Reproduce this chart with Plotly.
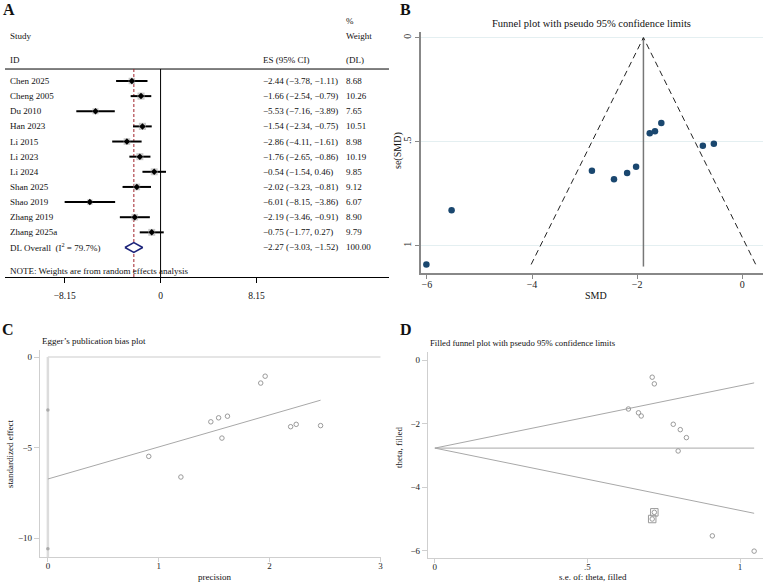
import plotly.graph_objects as go

# ---------------- data ----------------
studies = ["Chen 2025", "Cheng 2005", "Du 2010", "Han 2023", "Li 2015", "Li 2023",
           "Li 2024", "Shan 2025", "Shao 2019", "Zhang 2019", "Zhang 2025a"]
es = [-2.44, -1.66, -5.53, -1.54, -2.86, -1.76, -0.54, -2.02, -6.01, -2.19, -0.75]
ci_lo = [-3.78, -2.54, -7.16, -2.34, -4.11, -2.65, -1.54, -3.23, -8.15, -3.46, -1.77]
ci_hi = [-1.11, -0.79, -3.89, -0.75, -1.61, -0.86, 0.46, -0.81, -3.86, -0.91, 0.27]
weights = [8.68, 10.26, 7.65, 10.51, 8.98, 10.19, 9.85, 9.12, 6.07, 8.90, 9.79]
overall_es, overall_lo, overall_hi = -2.27, -3.03, -1.52
overall_weight = 100.00
i_squared = 79.7
forest_ticks = [-8.15, 0, 8.15]

# funnel plot (B)
se_smd = [0.68, 0.45, 0.83, 0.41, 0.64, 0.46, 0.51, 0.62, 1.09, 0.65, 0.52]
funnel_center = -1.88
funnel_se_max = 1.09
funnel_xticks = [-6, -4, -2, 0]
funnel_yticks = [0, 0.5, 1]

# Egger plot (C)
egger_precision = [1.47, 2.24, 1.20, 2.46, 1.57, 2.19, 1.96, 1.62, 0.91, 1.54, 1.92]
egger_std_effect = [-3.58, -3.72, -6.63, -3.79, -4.48, -3.85, -1.06, -3.27, -5.49, -3.36, -1.44]
egger_intercept = -6.74
egger_slope = 1.77
egger_intercept_ci = [-2.93, -10.6]
egger_xticks = [0, 1, 2, 3]
egger_yticks = [0, -5, -10]

# filled funnel plot (D)
filled_se_obs = [0.824, 0.667, 0.909, 0.634, 0.797, 0.676, 0.712, 0.781, 1.046, 0.804, 0.719]
filled_theta_obs = [-2.44, -1.66, -5.53, -1.54, -2.86, -1.76, -0.54, -2.02, -6.01, -2.19, -0.75]
filled_se_imp = [0.712, 0.719]
filled_theta_imp = [-5.00, -4.79]
filled_pooled = -2.77
filled_se_max = 1.046
filled_xticks = [0, 0.5, 1]
filled_yticks = [0, -2, -4, -6]

# ---------------- layout helpers ----------------
W, H = 767, 583
FONT = "Liberation Serif, Times New Roman, serif"


def px(x):
    return x / W


def py(y):
    return 1 - y / H


def fmt(v):
    s = f"{v:.2f}"
    return s.replace("-", "\u2212")


fig = go.Figure()

# ---------------- Panel A: forest plot ----------------
rows = list(range(len(studies)))
row_overall = len(studies)
A_TOP, A_BOT = -0.79, 12.95
A_XL, A_XR = -13.22, 19.41

fig.add_trace(go.Scatter(x=[A_XL, A_XR], y=[A_TOP, A_TOP], mode="lines",
                         line=dict(color="black", width=1), xaxis="x", yaxis="y", hoverinfo="skip"))
fig.add_trace(go.Scatter(x=[0, 0], y=[A_TOP, A_BOT], mode="lines",
                         line=dict(color="black", width=1), xaxis="x", yaxis="y", hoverinfo="skip"))
fig.add_trace(go.Scatter(x=[overall_es, overall_es], y=[A_TOP, A_BOT], mode="lines",
                         line=dict(color="#a0202a", width=1, dash="3px,2px"), xaxis="x", yaxis="y",
                         hoverinfo="skip"))
fig.add_trace(go.Scatter(
    x=es, y=rows, mode="markers",
    marker=dict(symbol="square", color="#b4b4b4", size=[2.2 * w ** 0.5 for w in weights], line=dict(width=0)),
    error_x=dict(type="data", symmetric=False,
                 array=[h - e for h, e in zip(ci_hi, es)],
                 arrayminus=[e - l for e, l in zip(es, ci_lo)],
                 thickness=2, width=0, color="black"),
    xaxis="x", yaxis="y", hoverinfo="skip"))
fig.add_trace(go.Scatter(x=es, y=rows, mode="markers",
                         marker=dict(symbol="diamond", color="black", size=5),
                         xaxis="x", yaxis="y", hoverinfo="skip"))
dh = 0.33
fig.add_trace(go.Scatter(
    x=[overall_lo, overall_es, overall_hi, overall_es, overall_lo],
    y=[row_overall, row_overall - dh, row_overall, row_overall + dh, row_overall],
    mode="lines", fill="toself", fillcolor="white",
    line=dict(color="#1c237a", width=1.5), xaxis="x", yaxis="y", hoverinfo="skip"))

annotations = []
TXT = 9
COL_NAME, COL_ES, COL_W = -13.0, 8.56, 15.6


def atext(x, y, text, size=TXT, xanchor="left", xref="x", yref="y", color="#111", **kw):
    annotations.append(dict(x=x, y=y, xref=xref, yref=yref, text=text, showarrow=False,
                            xanchor=xanchor, yanchor="middle",
                            font=dict(family=FONT, size=size, color=color), **kw))


atext(COL_NAME, -2.98, "Study")
atext(COL_NAME, -1.39, "ID")
atext(COL_ES, -1.39, "ES (95% CI)")
atext(COL_W, -3.97, "%")
atext(COL_W, -2.98, "Weight")
atext(COL_W, -1.39, "(DL)")
for r, name, e, l, h, w in zip(rows, studies, es, ci_lo, ci_hi, weights):
    atext(COL_NAME, r, name)
    atext(COL_ES, r, f"{fmt(e)} ({fmt(l)}, {fmt(h)})")
    atext(COL_W, r, f"{w:.2f}")
atext(COL_NAME, row_overall, f"DL Overall  (I<sup>2</sup> = {i_squared}%)")
atext(COL_ES, row_overall, f"{fmt(overall_es)} ({fmt(overall_lo)}, {fmt(overall_hi)})")
atext(COL_W, row_overall, f"{overall_weight:.2f}")
atext(COL_NAME, 12.55, "NOTE: Weights are from random effects analysis")

# ---------------- Panel B: funnel plot ----------------
fig.add_trace(go.Scatter(x=[funnel_center, funnel_center], y=[0, 1.10], mode="lines",
                         line=dict(color="#777", width=1.5), xaxis="x2", yaxis="y2", hoverinfo="skip"))
fig.add_trace(go.Scatter(
    x=[funnel_center - 1.96 * funnel_se_max, funnel_center, funnel_center + 1.96 * funnel_se_max],
    y=[funnel_se_max, 0, funnel_se_max], mode="lines",
    line=dict(color="#222", width=1, dash="6px,4px"), xaxis="x2", yaxis="y2", hoverinfo="skip"))
fig.add_trace(go.Scatter(x=es, y=se_smd, mode="markers",
                         marker=dict(color="#1a476f", size=6.5), xaxis="x2", yaxis="y2", hoverinfo="skip"))

# ---------------- Panel C: Egger plot ----------------
fig.add_trace(go.Scatter(x=[0, 3.0], y=[0, 0], mode="lines",
                         line=dict(color="#dcdcdc", width=1.5), xaxis="x3", yaxis="y3", hoverinfo="skip"))
fig.add_trace(go.Scatter(x=[0, 0], y=[0, -11.05], mode="lines",
                         line=dict(color="#dcdcdc", width=2.5), xaxis="x3", yaxis="y3", hoverinfo="skip"))
pmax = max(egger_precision)
fig.add_trace(go.Scatter(x=[0, pmax], y=[egger_intercept, egger_intercept + egger_slope * pmax],
                         mode="lines", line=dict(color="#a8a8a8", width=1), xaxis="x3", yaxis="y3",
                         hoverinfo="skip"))
fig.add_trace(go.Scatter(x=[0, 0], y=egger_intercept_ci, mode="markers",
                         marker=dict(symbol="circle", color="#aaa", size=3.5), xaxis="x3", yaxis="y3",
                         hoverinfo="skip"))
fig.add_trace(go.Scatter(x=egger_precision, y=egger_std_effect, mode="markers",
                         marker=dict(symbol="circle-open", color="#9a9a9a", size=4.5, line=dict(width=1)),
                         xaxis="x3", yaxis="y3", hoverinfo="skip"))

# ---------------- Panel D: filled funnel ----------------
fig.add_trace(go.Scatter(
    x=[filled_se_max, 0, filled_se_max, None, 0, filled_se_max],
    y=[filled_pooled + 1.96 * filled_se_max, filled_pooled, filled_pooled - 1.96 * filled_se_max, None,
       filled_pooled, filled_pooled],
    mode="lines", line=dict(color="#a8a8a8", width=1), xaxis="x4", yaxis="y4", hoverinfo="skip"))
fig.add_trace(go.Scatter(x=filled_se_obs + filled_se_imp, y=filled_theta_obs + filled_theta_imp,
                         mode="markers",
                         marker=dict(symbol="circle-open", color="#9a9a9a", size=4.5, line=dict(width=1)),
                         xaxis="x4", yaxis="y4", hoverinfo="skip"))
fig.add_trace(go.Scatter(x=filled_se_imp, y=filled_theta_imp, mode="markers",
                         marker=dict(symbol="square-open", color="#9a9a9a", size=7.5, line=dict(width=1)),
                         xaxis="x4", yaxis="y4", hoverinfo="skip"))

# ---------------- titles & labels ----------------
for lab, x, y in [("A", 9, 10), ("B", 407, 9), ("C", 8, 329), ("D", 407, 329)]:
    atext(px(x), py(y), f"<b>{lab}</b>", size=16, xanchor="center", xref="paper", yref="paper", color="#111")
atext(px(593), py(23), "Funnel plot with pseudo 95% confidence limits", size=10.5, xanchor="center",
      xref="paper", yref="paper")
atext(px(40), py(341), "Egger\u2019s publication bias plot", size=9, xref="paper", yref="paper")
atext(px(429), py(343), "Filled funnel plot with pseudo 95% confidence limits", size=8.7, xref="paper",
      yref="paper")
atext(px(598), py(295), "SMD", size=10, xanchor="center", xref="paper", yref="paper")
atext(px(399), py(150), "se(SMD)", size=10, xanchor="center", xref="paper", yref="paper", textangle=-90)
atext(px(215), py(577), "precision", size=9, xanchor="center", xref="paper", yref="paper")
atext(px(10), py(453), "standardized effect", size=9, xanchor="center", xref="paper", yref="paper",
      textangle=-90)
atext(px(595), py(577), "s.e. of: theta, filled", size=9, xanchor="center", xref="paper", yref="paper")
atext(px(400), py(447), "theta, filled", size=9, xanchor="center", xref="paper", yref="paper",
      textangle=-90)


def axis(domain, rng, **kw):
    d = dict(domain=domain, range=rng, showgrid=False, zeroline=False, fixedrange=True,
             tickfont=dict(family=FONT, size=10, color="#222"))
    d.update(kw)
    return d


LIGHT = "#cfcfcf"
SMALL = dict(family=FONT, size=9, color="#222")
fig.update_layout(
    width=W, height=H, margin=dict(l=0, r=0, t=0, b=0), showlegend=False,
    paper_bgcolor="white", plot_bgcolor="white",
    font=dict(family=FONT, color="#222"),
    xaxis=axis([px(5), px(390)], [A_XL, A_XR], anchor="y", showline=True, linecolor="black",
               linewidth=1, ticks="outside", ticklen=5, tickcolor="black", tickvals=forest_ticks,
               ticktext=[fmt(v) if v != 0 else "0" for v in forest_ticks], ticklabelstandoff=5,
               tickfont=dict(family=FONT, size=9.5, color="#111")),
    yaxis=axis([py(277), 1], [A_BOT, -5.35], anchor="x", visible=False),
    xaxis2=axis([px(422), px(765)], [-6.114, 0.395], anchor="y2", showline=True, linecolor="#888",
                linewidth=1.5, ticks="outside", ticklen=4, tickcolor="#888", tickvals=funnel_xticks,
                ticktext=[str(v).replace("-", "\u2212") for v in funnel_xticks], ticklabelstandoff=-3),
    yaxis2=axis([py(273), py(32)], [1.131, -0.027], anchor="x2", showline=True, linecolor="#888",
                linewidth=1.5, ticks="outside", ticklen=4, tickcolor="#888", tickvals=funnel_yticks,
                ticktext=["0", ".5", "1"], tickangle=-90, showgrid=True, gridcolor="#e4eff1",
                gridwidth=1),
    xaxis3=axis([px(40), px(382)], [-0.072, 3.005], anchor="y3", showline=True, linecolor=LIGHT,
                ticks="outside", ticklen=4, tickcolor=LIGHT, tickvals=egger_xticks,
                ticklabelstandoff=-4, tickfont=SMALL),
    yaxis3=axis([py(557), py(350)], [-11.05, 0.387], anchor="x3", showline=True, linecolor=LIGHT,
                ticks="outside", ticklen=5, tickcolor=LIGHT, tickvals=egger_yticks,
                ticktext=[str(v).replace("-", "\u2212") for v in egger_yticks], tickfont=SMALL),
    xaxis4=axis([px(429), px(765)], [-0.0229, 1.075], anchor="y4", showline=True, linecolor=LIGHT,
                ticks="outside", ticklen=4, tickcolor=LIGHT, tickvals=filled_xticks,
                ticktext=["0", ".5", "1"], ticklabelstandoff=-4, tickfont=SMALL),
    yaxis4=axis([py(558), py(352)], [-6.226, 0.252], anchor="x4", showline=True, linecolor=LIGHT,
                ticks="outside", ticklen=5, tickcolor=LIGHT, tickvals=filled_yticks,
                ticktext=[str(v).replace("-", "\u2212") for v in filled_yticks], tickfont=SMALL),
    annotations=annotations,
)

fig.write_html("out.html")
